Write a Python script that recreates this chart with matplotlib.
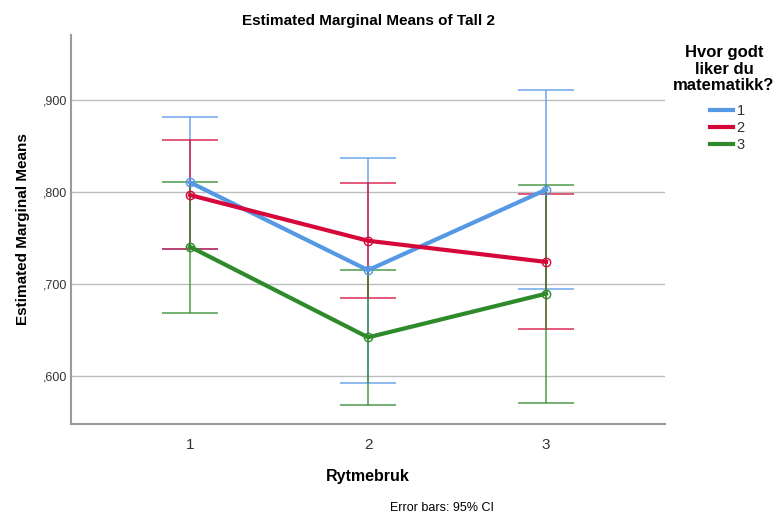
import matplotlib.pyplot as plt
import numpy as np

# Estimerte marginale gjennomsnitt for Tall 2, per rytmebruk og gruppe
rytmebruk = [1, 2, 3]
grupper = ['1', '2', '3']
farger = ['#5598E6', '#D6083B', '#2E8A2B']

mean_1 = [0.8105, 0.715, 0.8025]
lower_1 = [0.738, 0.5924, 0.6946]
upper_1 = [0.882, 0.837, 0.9107]

mean_2 = [0.7967, 0.747, 0.724]
lower_2 = [0.738, 0.685, 0.6507]
upper_2 = [0.8565, 0.810, 0.798]

mean_3 = [0.7405, 0.642, 0.6895]
lower_3 = [0.6688, 0.5685, 0.571]
upper_3 = [0.811, 0.715, 0.8076]

means = [mean_1, mean_2, mean_3]
lowers = [lower_1, lower_2, lower_3]
uppers = [upper_1, upper_2, upper_3]

plt.rcParams['font.family'] = ['Liberation Sans', 'DejaVu Sans']

fig = plt.figure(figsize=(7.76, 5.15), dpi=100)
ax = fig.add_axes([71 / 776, 1 - 424 / 515, 594 / 776, 389 / 515])

for m, lo, hi, c, g in zip(means, lowers, uppers, farger, grupper):
    m = np.array(m)
    yerr = [m - np.array(lo), np.array(hi) - m]
    ax.errorbar(rytmebruk, m, yerr=yerr, fmt='none', ecolor=c, elinewidth=1.1,
                capsize=20, capthick=1.1, alpha=0.85, zorder=3)
    ax.plot(rytmebruk, m, color=c, linewidth=3, zorder=4, label=g)
    ax.plot(rytmebruk, m, linestyle='none', marker='o', markersize=6,
            markerfacecolor='none', markeredgecolor=c, markeredgewidth=1, zorder=5)

ax.set_xlim(0.3315, 3.668)
ax.set_ylim(0.5478, 0.9707)
ax.set_xticks(rytmebruk)
ax.set_xticklabels(['1', '2', '3'], fontsize=11, color='#333333')
ax.set_yticks([0.6, 0.7, 0.8, 0.9])
ax.set_yticklabels([',600', ',700', ',800', ',900'], fontsize=9, color='#333333')
ax.tick_params(length=0)
ax.tick_params(axis='y', pad=3)
ax.tick_params(axis='x', pad=10)
ax.grid(axis='y', color='#BDBDBD', linewidth=1)
ax.set_axisbelow(True)
for side in ['top', 'right']:
    ax.spines[side].set_visible(False)
for side in ['left', 'bottom']:
    ax.spines[side].set_color('#9A9A9A')
    ax.spines[side].set_linewidth(1.5)

ax.set_title('Estimated Marginal Means of Tall 2', fontsize=11, fontweight='bold', pad=7)
ax.set_ylabel('Estimated Marginal Means', fontsize=11, fontweight='bold', labelpad=9)
ax.set_xlabel('Rytmebruk', fontsize=11.5, fontweight='bold', labelpad=12)

fig.text(442 / 776, 1 - 508 / 515, 'Error bars: 95% CI', fontsize=9, ha='center', va='center')

fig.text(724 / 776, 1 - 69 / 515, 'Hvor godt\nliker du\nmatematikk?', fontsize=12,
         fontweight='bold', ha='center', va='center', linespacing=1.12)
leg = ax.legend(loc='upper left', bbox_to_anchor=(697 / 776, 1 - 91 / 515),
                bbox_transform=fig.transFigure, frameon=False, fontsize=10.5,
                handlelength=1.6, handletextpad=0.2, labelspacing=0.2)
for t in leg.get_texts():
    t.set_color('#333333')

fig.savefig('out.png', dpi=100)
